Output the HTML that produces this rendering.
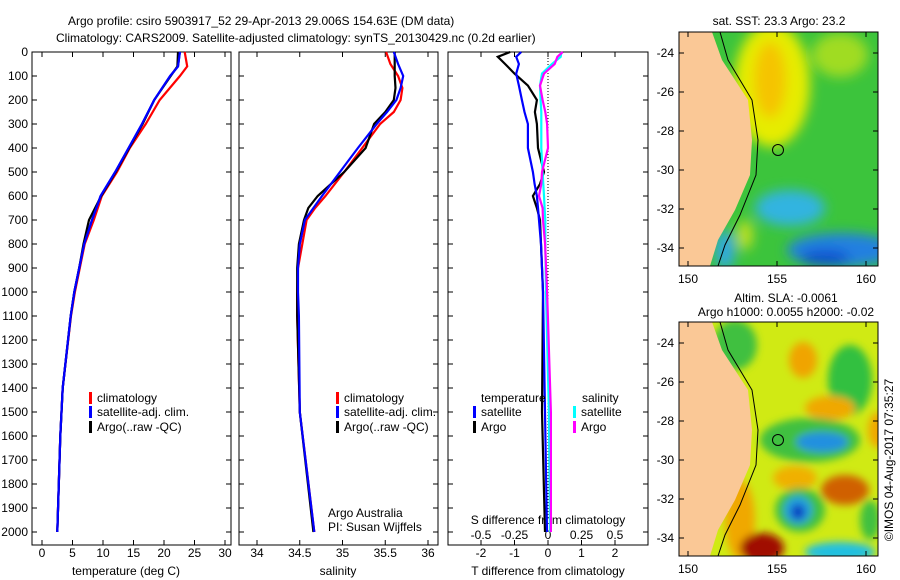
<!DOCTYPE html>
<html><head><meta charset="utf-8"><style>
body{margin:0;background:#fff;}
svg{display:block;font-family:"Liberation Sans",sans-serif;font-size:12px;}
</style></head><body>
<svg id="chart" width="900" height="580" viewBox="0 0 900 580" xmlns="http://www.w3.org/2000/svg">
<defs>
<filter id="bl" x="-50%" y="-50%" width="200%" height="200%"><feGaussianBlur stdDeviation="6"/></filter>
<filter id="bl2" x="-50%" y="-50%" width="200%" height="200%"><feGaussianBlur stdDeviation="4"/></filter>
<clipPath id="c1"><rect x="679" y="32" width="199" height="234"/></clipPath>
<clipPath id="c2"><rect x="679" y="322" width="199" height="234"/></clipPath>
</defs>
<text x="68" y="25">Argo profile: csiro 5903917_52 29-Apr-2013 29.006S 154.63E (DM data)</text>
<text x="56" y="42">Climatology: CARS2009. Satellite-adjusted climatology: synTS_20130429.nc (0.2d earlier)</text>
<g id="panels"></g>

<!-- maps -->
<g>
<text x="779" y="25" text-anchor="middle">sat. SST: 23.3 Argo: 23.2</text>
<g clip-path="url(#c1)">
<rect x="679" y="32" width="199" height="234" fill="#3cc43c"/>
<g filter="url(#bl)">
<ellipse cx="772" cy="85" rx="38" ry="62" fill="#e6ec00"/>
<ellipse cx="770" cy="80" rx="16" ry="38" fill="#f5c400"/>
<ellipse cx="840" cy="55" rx="28" ry="22" fill="#a0dc20"/>
<ellipse cx="790" cy="208" rx="35" ry="18" fill="#30b4e0"/>
<ellipse cx="842" cy="250" rx="55" ry="17" fill="#2080e0"/>
<ellipse cx="825" cy="258" rx="25" ry="8" fill="#1050d0"/>
<ellipse cx="745" cy="235" rx="8" ry="15" fill="#c0e020"/>
<ellipse cx="725" cy="250" rx="10" ry="20" fill="#30a8e0"/>
</g>
<path d="M679,32 L712,32 L722,60 L735,80 L748,100 L752,140 L750,175 L735,210 L718,240 L710,266 L679,266 Z" fill="#fac896"/>
<path d="M720,32 L728,60 L752,100 L758,140 L756,175 L740,215 L725,245 L718,266" fill="none" stroke="#000" stroke-width="1"/>
<circle cx="778" cy="150" r="5.5" fill="none" stroke="#000"/>
</g>
<rect x="679" y="32" width="199" height="234" fill="none" stroke="#000"/>
</g>
<g>
<text x="786" y="302" text-anchor="middle">Altim. SLA: -0.0061</text>
<text x="786" y="316" text-anchor="middle">Argo h1000: 0.0055 h2000: -0.02</text>
<g clip-path="url(#c2)">
<rect x="679" y="322" width="199" height="234" fill="#d0ea14"/>
<g filter="url(#bl2)">
<ellipse cx="735" cy="345" rx="22" ry="25" fill="#40c040"/>
<ellipse cx="803" cy="360" rx="14" ry="18" fill="#f0a400"/>
<ellipse cx="850" cy="380" rx="22" ry="35" fill="#30c040"/>
<ellipse cx="830" cy="408" rx="25" ry="12" fill="#f0a800"/>
<ellipse cx="810" cy="440" rx="50" ry="22" fill="#40c040"/>
<ellipse cx="822" cy="442" rx="26" ry="10" fill="#2090e0"/>
<ellipse cx="795" cy="478" rx="22" ry="12" fill="#f0b000"/>
<ellipse cx="845" cy="490" rx="24" ry="15" fill="#d06000"/>
<ellipse cx="800" cy="510" rx="25" ry="22" fill="#40c040"/>
<ellipse cx="798" cy="510" rx="14" ry="14" fill="#20a0e0"/>
<ellipse cx="798" cy="512" rx="7" ry="8" fill="#1040c0"/>
<ellipse cx="740" cy="520" rx="15" ry="40" fill="#f0a800"/>
<ellipse cx="762" cy="548" rx="22" ry="15" fill="#a01000"/>
<ellipse cx="840" cy="552" rx="35" ry="10" fill="#20c0e0"/>
<ellipse cx="878" cy="430" rx="10" ry="18" fill="#f0a800"/>
<ellipse cx="870" cy="520" rx="10" ry="20" fill="#40c040"/>
</g>
<path d="M679,322 L712,322 L722,350 L735,370 L748,390 L752,430 L750,465 L735,500 L718,530 L710,556 L679,556 Z" fill="#fac896"/>
<path d="M720,322 L728,350 L752,390 L758,430 L756,465 L740,505 L725,535 L718,556" fill="none" stroke="#000" stroke-width="1"/>
<circle cx="778" cy="440" r="5.5" fill="none" stroke="#000"/>
</g>
<rect x="679" y="322" width="199" height="234" fill="none" stroke="#000"/>
</g>
<text transform="translate(893,460) rotate(-90)" text-anchor="middle">©IMOS 04-Aug-2017 07:35:27</text>
<g id="maplabels"></g>
</svg>
<script>
const NS="http://www.w3.org/2000/svg";
const svg=document.getElementById('chart');
const P=document.getElementById('panels');
const depthTicks=[0,100,200,300,400,500,600,700,800,900,1000,1100,1200,1300,1400,1500,1600,1700,1800,1900,2000];
const tempTicks=[0,5,10,15,20,25,30];
const salTicks=[34,34.5,35,35.5,36];
const tdiffTicks=[-2,-1,0,1,2];
const sdiffTicks=[-0.5,-0.25,0,0.25,0.5];
const sdiffLabels=["-0.5","-0.25","0","0.25","0.5"];
// temperature profiles
const tDepth=[0,60,100,200,300,400,500,600,700,800,900,1000,1100,1400,1600,2000];
const tClim=[23.4,23.8,22.6,19.3,17,14.4,12.3,9.8,8.5,7,6.2,5.4,4.75,3.4,3,2.5];
const tSat=[22.6,22.3,21,18.4,16.4,14.2,12,9.6,8.2,6.9,6.1,5.3,4.7,3.4,3,2.5];
const tArgo=[22.3,22.2,21.1,18.4,16.5,14.3,12.1,9.7,7.7,6.8,6.1,5.3,4.7,3.4,3,2.5];
// salinity profiles
const sDepth=[0,50,100,150,200,250,300,400,500,600,650,700,800,900,1000,1100,1500,2000];
const sClim=[35.51,35.56,35.65,35.7,35.68,35.6,35.44,35.23,35.02,34.8,34.68,34.58,34.53,34.48,34.47,34.47,34.5,34.67];
const sSat=[35.6,35.65,35.71,35.68,35.63,35.52,35.4,35.18,34.97,34.76,34.66,34.56,34.5,34.48,34.48,34.49,34.5,34.67];
const sArgo=[35.61,35.61,35.61,35.62,35.6,35.5,35.37,35.27,35.02,34.71,34.6,34.55,34.49,34.47,34.47,34.47,34.5,34.66];
// differences
const dDepth=[0,20,50,90,140,200,250,300,400,500,550,600,650,700,800,1000,1500,2000];
const dtSat=[-0.8,-0.95,-0.87,-0.95,-0.87,-0.78,-0.7,-0.6,-0.6,-0.45,-0.4,-0.33,-0.3,-0.27,-0.21,-0.15,-0.09,-0.03];
const dtArgo=[-1.13,-1.5,-1.28,-1.0,-0.6,-0.33,-0.39,-0.33,-0.3,-0.12,-0.24,-0.45,-0.33,-0.24,-0.21,-0.15,-0.18,-0.09];
const dsSat=[0.1,0.095,0.03,-0.045,-0.06,-0.055,-0.05,-0.05,-0.05,-0.04,-0.035,-0.03,-0.025,-0.02,-0.02,-0.015,0.007,0.015];
const dsArgo=[0.11,0.07,0.05,-0.03,-0.06,-0.04,-0.02,-0.007,0,-0.045,-0.05,-0.067,-0.04,-0.037,-0.022,-0.007,0.022,0.022];

const Y0=52,Y1=545;
const yD=d=>Y0+0.24*d;
const xT=v=>42+6.1*v;
const xS=v=>257+85.5*(v-34);
const xDT=v=>548+33.5*v;
const xDS=v=>548+134*v;

function mk(tag,attrs,parent){const e=document.createElementNS(NS,tag);for(const k in attrs)e.setAttribute(k,attrs[k]);(parent||P).appendChild(e);return e;}
function txt(x,y,s,anchor,name){const e=mk('text',{x:x,y:y,'text-anchor':anchor||'middle'});e.textContent=s;


return e;}
function line(xs,ys,color,name){
 const pts=xs.map((v,i)=>v.toFixed(1)+','+ys[i].toFixed(1)).join(' ');
 const e=mk('polyline',{points:pts,fill:'none',stroke:color,'stroke-width':2.2});
 
 
}
function frame(x0,x1,name){
 const r=mk('rect',{x:x0,y:Y0,width:x1-x0,height:Y1-Y0,fill:'none',stroke:'#000','stroke-width':1});
 
 
 depthTicks.forEach(d=>{mk('line',{x1:x0,x2:x0+5,y1:yD(d),y2:yD(d),stroke:'#000'});mk('line',{x1:x1,x2:x1-5,y1:yD(d),y2:yD(d),stroke:'#000'});});
}
function xticks(ticks,fx,labels,ly,name){
 ticks.forEach((t,i)=>{const x=fx(t);mk('line',{x1:x,x2:x,y1:Y0,y2:Y0+5,stroke:'#000'});mk('line',{x1:x,x2:x,y1:Y1,y2:Y1-5,stroke:'#000'});
 txt(x,ly,labels?labels[i]:String(t),'middle',name);});
}
function legend(x,y,color,label){
 const r=mk('rect',{x:x,y:y-10,width:3,height:12,fill:color});
 
 
 txt(x+8,y,label,'start','legend-entry');
}
// panel 1
frame(32,231,'temperature-panel');
depthTicks.forEach(d=>txt(28,yD(d)+4,String(d),'end','y-tick-label'));
xticks(tempTicks,xT,null,557,'temp-tick-label');
txt(126,575,'temperature (deg C)','middle','x-axis-title-temperature');
line(tClim.map(xT),tDepth.map(yD),'#f00','temp-climatology-line');
line(tSat.map(xT),tDepth.map(yD),'#00f','temp-satellite-line');
line(tArgo.map(xT),tDepth.map(yD),'#000','temp-argo-line');
line(tSat.map(xT),tDepth.map(yD),'#00f','temp-satellite-line-top');
legend(89,402,'#f00','climatology');legend(89,416,'#00f','satellite-adj. clim.');legend(89,431,'#000','Argo(..raw -QC)');
// panel 2
frame(239,438,'salinity-panel');
xticks(salTicks,xS,null,557,'sal-tick-label');
txt(338,575,'salinity','middle','x-axis-title-salinity');
line(sClim.map(xS),sDepth.map(yD),'#f00','sal-climatology-line');
line(sArgo.map(xS),sDepth.map(yD),'#000','sal-argo-line');
line(sSat.map(xS),sDepth.map(yD),'#00f','sal-satellite-line');
legend(336,402,'#f00','climatology');legend(336,416,'#00f','satellite-adj. clim.');legend(336,431,'#000','Argo(..raw -QC)');
txt(328,517,'Argo Australia','start','credit-argo-australia');
txt(328,531,'PI: Susan Wijffels','start','credit-pi');
// panel 3
frame(448,648,'difference-panel');
mk('line',{x1:548,x2:548,y1:Y0,y2:yD(1950),stroke:'#000','stroke-dasharray':'1,2'});
xticks(tdiffTicks,xDT,null,557,'tdiff-tick-label');
sdiffTicks.forEach((t,i)=>{const x=xDS(t);mk('line',{x1:x,x2:x,y1:Y1,y2:Y1-5,stroke:'#000'});txt(x,539,sdiffLabels[i],'middle','sdiff-tick-label');});
txt(548,524,'S difference from climatology','middle','s-diff-title');
txt(548,575,'T difference from climatology','middle','x-axis-title-tdiff');
line(dtArgo.map(xDT),dDepth.map(yD),'#000','tdiff-argo-line');
line(dtSat.map(xDT),dDepth.map(yD),'#00f','tdiff-satellite-line');
line(dsSat.map(xDS),dDepth.map(yD),'#0ff','sdiff-satellite-line');
line(dsArgo.map(xDS),dDepth.map(yD),'#f0f','sdiff-argo-line');
txt(481,402,'temperature','start','legend-title-temperature');
legend(473,416,'#00f','satellite');legend(473,431,'#000','Argo');
txt(582,402,'salinity','start','legend-title-salinity');
legend(573,416,'#0ff','satellite');legend(573,431,'#f0f','Argo');
// map axes
const ML=document.getElementById('maplabels');
const lats=[-24,-26,-28,-30,-32,-34];
const lons=[150,155,160];
const yLat=(l,top)=>top+(-23-l)*19.5+1.5;
const xLon=l=>688+17.8*(l-150);
[32,322].forEach((top,k)=>{
 lats.forEach(l=>{const y=yLat(l,top);mk('line',{x1:679,x2:684,y1:y,y2:y,stroke:'#000'},ML);mk('line',{x1:878,x2:873,y1:y,y2:y,stroke:'#000'},ML);
  const t=mk('text',{x:674,y:y+4,'text-anchor':'end'},ML);t.textContent=String(l);
  
  });
 lons.forEach(l=>{const x=xLon(l);mk('line',{x1:x,x2:x,y1:top,y2:top+5,stroke:'#000'},ML);mk('line',{x1:x,x2:x,y1:top+234,y2:top+229,stroke:'#000'},ML);
  const t=mk('text',{x:x,y:top+251,'text-anchor':'middle'},ML);t.textContent=String(l);
  
  });
});
</script>
</body></html>
